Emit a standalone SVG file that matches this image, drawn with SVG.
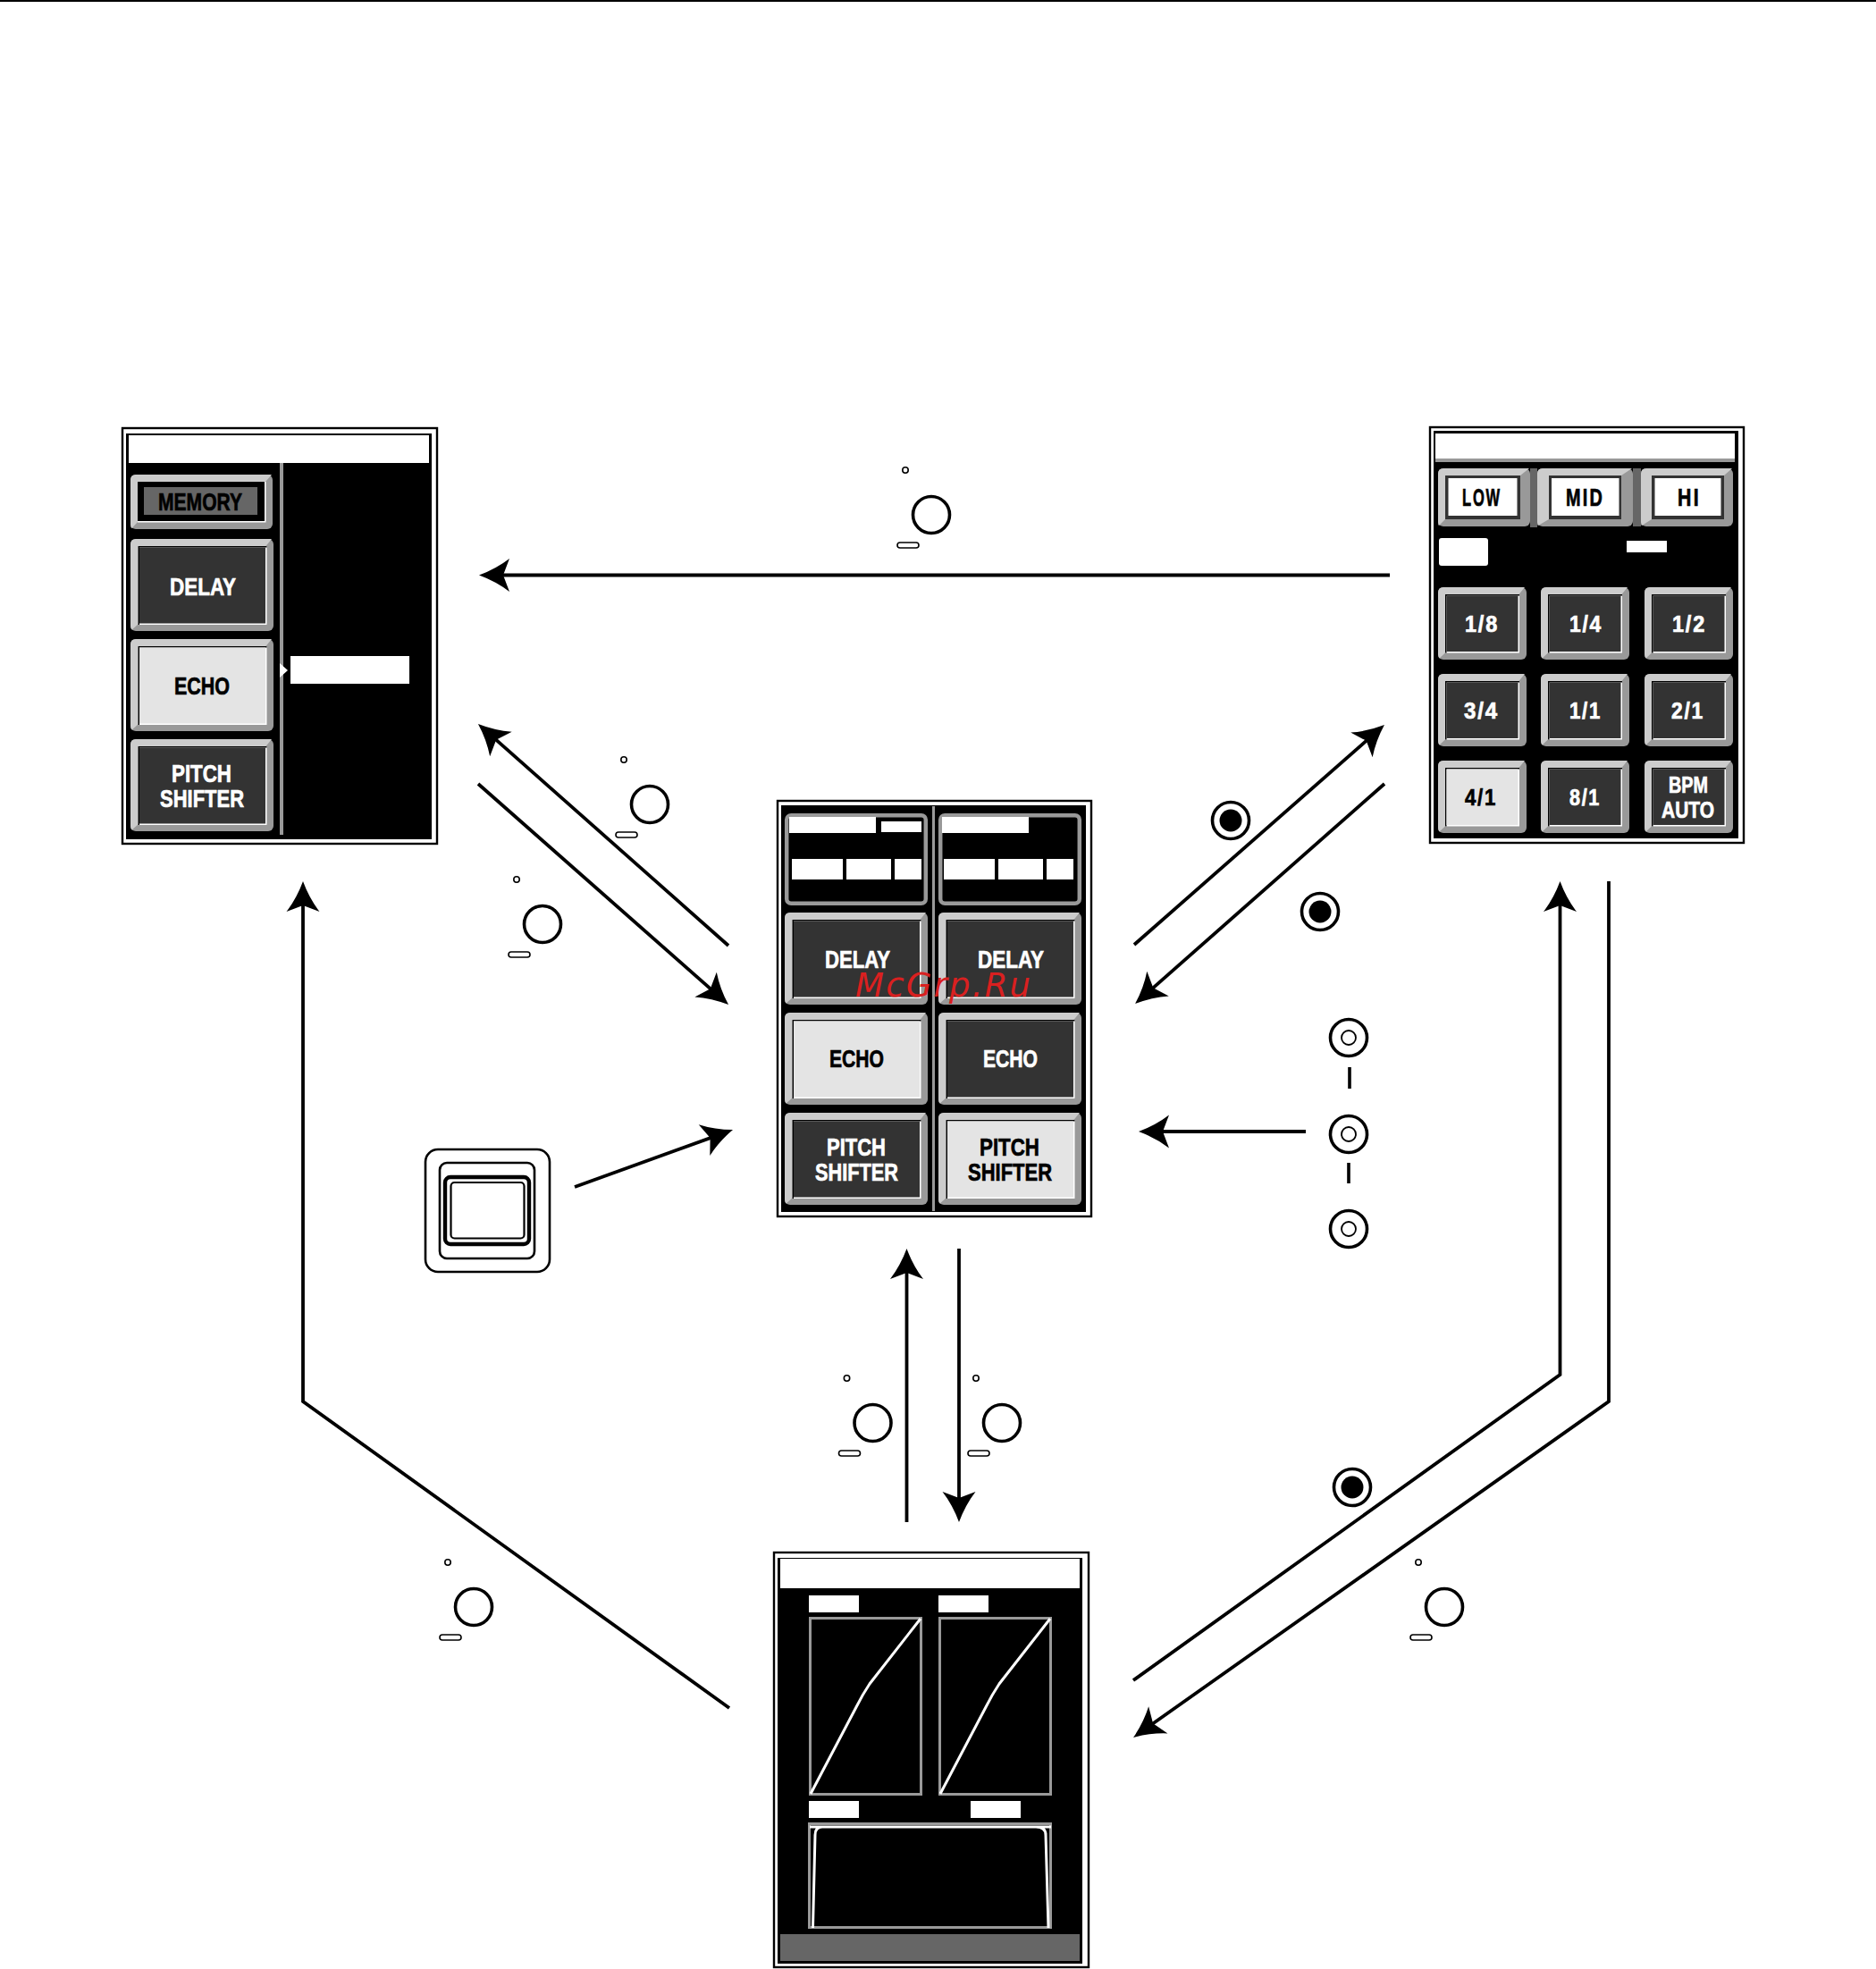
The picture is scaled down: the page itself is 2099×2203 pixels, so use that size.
<svg xmlns="http://www.w3.org/2000/svg" width="2099" height="2203" viewBox="0 0 2099 2203">
<style>
.t{font-family:"Liberation Sans Narrow","Liberation Sans",Arial,sans-serif;font-weight:700;font-size:28px;stroke-width:.7px}
.s{font-size:26px;letter-spacing:2px}
.h{font-size:27px;letter-spacing:3px}
.w{fill:#fff}.k{fill:#000}
.t.w{stroke:#fff}.t.k{stroke:#000}
.g{fill:#999}.l{fill:#ccc}.d{fill:#333}.e{fill:#e4e4e4}.m{fill:#666}
.conn{fill:none;stroke:#000;stroke-width:3.8;stroke-linejoin:miter}
.o{fill:none;stroke:#000}
.frame{fill:#000;stroke:#999;stroke-width:3}
.curve{fill:none;stroke:#fff;stroke-width:3}
</style>
<defs>
<marker id="ah" markerUnits="userSpaceOnUse" markerWidth="40" markerHeight="40" refX="19" refY="20" orient="auto" overflow="visible"><path d="M34,20 Q15,13 0,1.5 L7,20 L0,38.5 Q15,27 34,20Z" fill="#000"/></marker>
<g id="bevelB"><rect width="160" height="103" rx="6" class="g"/><path d="M6,0H158L151,8.500H9V95L1.500,101.500Q0,100 0,97V6Q0,0 6,0Z" class="l"/></g>
<g id="bigD"><use href="#bevelB"/><rect x="8.500" y="8" width="144" height="88" class="w"/><path d="M8.500,8H152.500V9.500H10V96H8.500Z"/><rect x="10" y="9.500" width="141" height="85" class="d"/></g>
<g id="bigL"><use href="#bevelB"/><rect x="8.500" y="8" width="144" height="88" class="w"/><path d="M8.500,8H152.500V9.500H10V96H8.500Z"/><rect x="10" y="9.500" width="141" height="85" class="e"/></g>
<g id="bevelS"><rect width="99" height="81" rx="6" class="g"/><path d="M6,0H97L90.500,8H8.500V73L1.500,79.500Q0,78 0,75V6Q0,0 6,0Z" class="l"/></g>
<g id="smD"><use href="#bevelS"/><rect x="8" y="8" width="83" height="65.500" class="w"/><path d="M8,8H91V9.500H9.500V73.500H8Z"/><rect x="9.500" y="9.500" width="80" height="62.500" class="d"/></g>
<g id="smL"><use href="#bevelS"/><rect x="8" y="8" width="83" height="65.500" class="w"/><path d="M8,8H91V9.500H9.500V73.500H8Z"/><rect x="9.500" y="9.500" width="80" height="62.500" class="e"/></g>
<g id="knob"><circle r="20.500" class="o" stroke-width="3.600"/><circle cx="-29" cy="-50" r="3.200" class="o" stroke-width="1.600"/><rect x="-38" y="31" width="24" height="6" rx="3" class="o" stroke-width="1.600"/></g>
<g id="target"><circle r="20.500" class="o" stroke-width="3.600"/><circle r="12.500"/></g>
<g id="ring"><circle r="20.500" class="o" stroke-width="3.600"/><circle r="8" class="o" stroke-width="1.800"/></g>
</defs>
<rect width="2099" height="2203" fill="#fff"/>
<rect width="2099" height="2" fill="#000"/>

<g id="panel-left">
<rect x="137" y="479" width="352" height="465" fill="#fff" stroke="#000" stroke-width="2.400"/>
<rect x="141" y="485" width="342" height="454"/>
<rect x="144" y="487" width="336" height="31" class="w"/>
<rect x="313" y="518" width="4" height="416" class="g"/>
<path d="M313,742L322,750L313,758Z" class="w"/>
<rect x="325" y="734" width="133" height="31" class="w"/>
<g id="btn-memory"><rect x="146" y="531" width="159" height="61" rx="6" class="g"/><path d="M152,531H304L297,539H154V584L147.500,591Q146,590 146,587V537Q146,531 152,531Z" class="l"/><rect x="154" y="539" width="143.500" height="45.500" class="w"/><rect x="154" y="539" width="142" height="44"/><rect x="161" y="545" width="127" height="31" class="m"/><text x="177" y="571" class="t k" textLength="94" lengthAdjust="spacingAndGlyphs">MEMORY</text></g>
<use href="#bigD" x="146" y="603"/><text x="190" y="666" class="t w" textLength="74" lengthAdjust="spacingAndGlyphs">DELAY</text>
<use href="#bigL" x="146" y="715"/><text x="195" y="777" class="t k" textLength="62" lengthAdjust="spacingAndGlyphs">ECHO</text>
<use href="#bigD" x="146" y="827"/><text x="192" y="875" class="t w" textLength="67" lengthAdjust="spacingAndGlyphs">PITCH</text><text x="179" y="903" class="t w" textLength="94" lengthAdjust="spacingAndGlyphs">SHIFTER</text>
</g>

<g id="panel-right">
<rect x="1600" y="478" width="351" height="465" fill="#fff" stroke="#000" stroke-width="2.400"/>
<rect x="1604" y="482" width="341" height="456"/>
<rect x="1606" y="485" width="335" height="28" class="w"/>
<rect x="1606" y="513" width="335" height="4" class="g"/>
<rect x="1712" y="524" width="8" height="66" class="m"/><rect x="1827" y="524" width="9" height="65" class="m"/>
<g id="btn-low"><rect x="1609" y="524" width="103" height="65" rx="6" class="g"/><path d="M1615,524H1711L1701,532H1617V581L1610,588Q1609,587 1609,584V530Q1609,524 1615,524Z" class="l"/><rect x="1617" y="532" width="84" height="49" class="d"/><rect x="1620.500" y="535" width="77" height="42" class="w"/><text x="1636" y="566" class="t h k" textLength="44" lengthAdjust="spacingAndGlyphs">LOW</text></g>
<g id="btn-mid"><rect x="1720" y="524" width="107" height="65" rx="6" class="g"/><path d="M1726,524H1826L1814,532H1733V581L1721,588Q1720,587 1720,584V530Q1720,524 1726,524Z" class="l"/><rect x="1733" y="532" width="81" height="49" class="d"/><rect x="1736" y="535" width="75.500" height="42" class="w"/><text x="1752" y="566" class="t h k" textLength="43" lengthAdjust="spacingAndGlyphs">MID</text></g>
<g id="btn-hi"><rect x="1836" y="524" width="103" height="65" rx="6" class="g"/><path d="M1842,524H1938L1929,532H1848V581L1837,588Q1836,587 1836,584V530Q1836,524 1842,524Z" class="l"/><rect x="1848" y="532" width="81" height="49" class="d"/><rect x="1851.500" y="535" width="74" height="42" class="w"/><text x="1877" y="566" class="t h k" textLength="26" lengthAdjust="spacingAndGlyphs">HI</text></g>
<rect x="1610" y="602" width="55" height="31" rx="3" class="w"/>
<rect x="1820" y="605" width="45" height="13" class="w"/>
<use href="#smD" x="1609" y="657"/><text x="1639" y="707" class="t s w" textLength="38" lengthAdjust="spacingAndGlyphs">1/8</text>
<use href="#smD" x="1724" y="657"/><text x="1756" y="707" class="t s w" textLength="37" lengthAdjust="spacingAndGlyphs">1/4</text>
<use href="#smD" x="1840" y="657"/><text x="1871" y="707" class="t s w" textLength="38" lengthAdjust="spacingAndGlyphs">1/2</text>
<use href="#smD" x="1609" y="754"/><text x="1638" y="804" class="t s w" textLength="39" lengthAdjust="spacingAndGlyphs">3/4</text>
<use href="#smD" x="1724" y="754"/><text x="1756" y="804" class="t s w" textLength="36" lengthAdjust="spacingAndGlyphs">1/1</text>
<use href="#smD" x="1840" y="754"/><text x="1870" y="804" class="t s w" textLength="37" lengthAdjust="spacingAndGlyphs">2/1</text>
<use href="#smL" x="1609" y="851"/><text x="1639" y="901" class="t s k" textLength="36" lengthAdjust="spacingAndGlyphs">4/1</text>
<use href="#smD" x="1724" y="851"/><text x="1756" y="901" class="t s w" textLength="35" lengthAdjust="spacingAndGlyphs">8/1</text>
<use href="#smD" x="1840" y="851"/><text x="1867" y="887" class="t w" style="font-size:26px" textLength="44" lengthAdjust="spacingAndGlyphs">BPM</text><text x="1859" y="915" class="t w" style="font-size:26px" textLength="59" lengthAdjust="spacingAndGlyphs">AUTO</text>
</g>

<g id="panel-center">
<rect x="870" y="896" width="351" height="465" fill="#fff" stroke="#000" stroke-width="2.400"/>
<rect x="874" y="901" width="341" height="455"/>
<rect x="1043" y="902" width="3" height="453" class="g"/>
<g id="display-a"><rect x="880.200" y="912.200" width="155.600" height="98.600" rx="5" fill="#000" stroke="#999" stroke-width="4.500"/><rect x="883" y="914" width="97" height="18" class="w"/><rect x="986" y="919" width="45" height="12" class="w"/><rect x="886" y="961" width="57" height="23" class="w"/><rect x="947" y="961" width="50" height="23" class="w"/><rect x="1001" y="961" width="30" height="23" class="w"/></g>
<g id="display-b"><rect x="1052.200" y="912.200" width="155.600" height="98.600" rx="5" fill="#000" stroke="#999" stroke-width="4.500"/><rect x="1054" y="914" width="97" height="18" class="w"/><rect x="1056" y="961" width="57" height="23" class="w"/><rect x="1117" y="961" width="50" height="23" class="w"/><rect x="1171" y="961" width="30" height="23" class="w"/></g>
<use href="#bigD" x="878" y="1021"/><text x="923" y="1083" class="t w" textLength="73" lengthAdjust="spacingAndGlyphs">DELAY</text>
<use href="#bigD" x="1050" y="1021"/><text x="1094" y="1083" class="t w" textLength="74" lengthAdjust="spacingAndGlyphs">DELAY</text>
<use href="#bigL" x="878" y="1133"/><text x="928" y="1194" class="t k" textLength="61" lengthAdjust="spacingAndGlyphs">ECHO</text>
<use href="#bigD" x="1050" y="1133"/><text x="1100" y="1194" class="t w" textLength="61" lengthAdjust="spacingAndGlyphs">ECHO</text>
<use href="#bigD" x="878" y="1245"/><text x="925" y="1293" class="t w" textLength="66" lengthAdjust="spacingAndGlyphs">PITCH</text><text x="912" y="1321" class="t w" textLength="93" lengthAdjust="spacingAndGlyphs">SHIFTER</text>
<use href="#bigL" x="1050" y="1245"/><text x="1096" y="1293" class="t k" textLength="67" lengthAdjust="spacingAndGlyphs">PITCH</text><text x="1083" y="1321" class="t k" textLength="94" lengthAdjust="spacingAndGlyphs">SHIFTER</text>
</g>

<g id="panel-bottom">
<rect x="866" y="1737" width="352" height="464" fill="#fff" stroke="#000" stroke-width="2.400"/>
<rect x="870" y="1743" width="341" height="454"/>
<rect x="873" y="1744" width="335" height="33" class="w"/>
<rect x="905" y="1785" width="56" height="19" class="w"/><rect x="1050" y="1785" width="56" height="19" class="w"/>
<rect x="906.500" y="1810.500" width="124" height="197" class="frame"/>
<rect x="1051.500" y="1810.500" width="124" height="197" class="frame"/>
<path d="M907,2007L958,1910Q965,1896 973,1884L1030,1811" class="curve"/>
<path d="M1052,2007L1103,1910Q1110,1896 1118,1884L1175,1811" class="curve"/>
<rect x="905" y="2015" width="56" height="19" class="w"/><rect x="1086" y="2015" width="56" height="19" class="w"/>
<rect x="905.500" y="2040.500" width="270" height="116" class="frame"/>
<path d="M909.500,2157L912,2053Q912,2044 920,2044M906,2044H1176M1159,2044Q1170,2044 1170,2053L1173,2157" class="curve"/>
<rect x="873" y="2164" width="335" height="30" class="m"/>
</g>

<g id="switch" fill="none" stroke="#000">
<rect x="476" y="1286" width="139" height="137" rx="14" stroke-width="2.600"/>
<rect x="492" y="1301" width="106" height="107" rx="8" stroke-width="2.600"/>
<rect x="498" y="1317" width="94" height="75" rx="6" stroke-width="4.400"/>
<rect x="504.500" y="1323" width="82" height="62.500" rx="4" stroke-width="2.200"/>
</g>

<g id="knobs">
<use href="#knob" x="1042" y="576"/>
<use href="#knob" x="727" y="900"/>
<use href="#knob" x="607" y="1034"/>
<use href="#knob" x="976.500" y="1592"/>
<use href="#knob" x="1121" y="1592"/>
<use href="#knob" x="530" y="1798"/>
<use href="#knob" x="1616" y="1798"/>
<use href="#target" x="1377" y="918"/>
<use href="#target" x="1477" y="1020"/>
<use href="#target" x="1513" y="1664"/>
<use href="#ring" x="1509" y="1161"/>
<use href="#ring" x="1509" y="1269"/>
<use href="#ring" x="1509" y="1375"/>
<path d="M1510,1194V1218M1509,1301V1324" class="o" stroke-width="3.600"/>
</g>

<g id="connectors" class="conn">
<path d="M1555,643.500H551" marker-end="url(#ah)"/>
<path d="M815,1058L546.200,819.900" marker-end="url(#ah)"/>
<path d="M535,877L803.800,1114.100" marker-end="url(#ah)"/>
<path d="M1269,1057L1537.700,820.900" marker-end="url(#ah)"/>
<path d="M1549,877L1281.300,1113.100" marker-end="url(#ah)"/>
<path d="M1461,1266H1289" marker-end="url(#ah)"/>
<path d="M643,1328L805.900,1269.100" marker-end="url(#ah)"/>
<path d="M1014.500,1703V1412" marker-end="url(#ah)"/>
<path d="M1073,1397V1688" marker-end="url(#ah)"/>
<path d="M816,1911L339,1568V1001" marker-end="url(#ah)"/>
<path d="M1268,1880L1745.500,1538V1001" marker-end="url(#ah)"/>
<path d="M1800,986V1568L1280.300,1935.300" marker-end="url(#ah)"/>
</g>

<text id="watermark" x="957" y="1115" font-family="'DejaVu Sans',Verdana,sans-serif" font-style="italic" font-size="37" fill="#d92020" textLength="196" lengthAdjust="spacing">McGrp.Ru</text>
</svg>
